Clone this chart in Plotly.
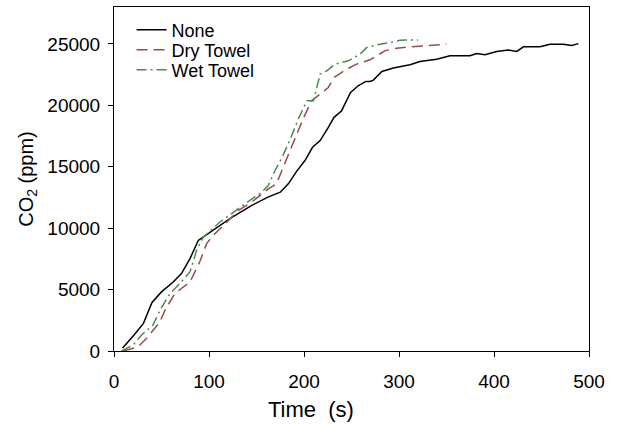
import plotly.graph_objects as go

none_t = [9, 20, 31, 40, 50, 62, 71, 80, 88.7, 100, 122, 145, 162, 175, 183.5, 192, 201, 209, 217, 225.6, 231.6, 239.6, 249, 257, 265, 269.5, 273, 282, 294, 311.6, 322, 339.6, 353.7, 374.7, 381.8, 390.5, 402.8, 415, 424, 431, 448.4, 459, 473, 481.8, 488.8]
none_v = [250, 1200, 2250, 3950, 4810, 5600, 6300, 7520, 9000, 9600, 10770, 11850, 12520, 12930, 13610, 14600, 15500, 16580, 17130, 18200, 19020, 19560, 21050, 21590, 21940, 21940, 22050, 22750, 23030, 23300, 23560, 23750, 24030, 24030, 24220, 24110, 24380, 24490, 24380, 24760, 24760, 24970, 24970, 24860, 25020]

dry_t = [10, 25.6, 34.4, 48.4, 53.7, 64, 80, 90.5, 97.5, 104.5, 117, 131, 145, 162.4, 171, 178, 185, 192, 199, 208, 217, 225.6, 231.6, 245, 255.4, 269.5, 285, 297.6, 311.6, 329, 350]
dry_v = [0, 350, 1030, 2380, 3330, 4680, 5630, 7300, 8740, 9420, 10360, 11440, 12120, 13200, 13610, 14960, 16200, 17670, 18890, 20370, 20920, 21450, 22260, 22950, 23350, 23700, 24430, 24650, 24760, 24840, 24970]

wet_t = [8, 20, 29, 41, 48.4, 59, 69.5, 80, 87, 94, 111.6, 125.6, 143, 155.5, 162.4, 169.5, 176.5, 185, 194, 203, 210, 217, 224, 232.6, 246.6, 259, 266, 276.5, 290.5, 301, 320]
wet_v = [0, 490, 1300, 2110, 3330, 4680, 5500, 6440, 8200, 9280, 10500, 11310, 12260, 12930, 13470, 14690, 15700, 17130, 18890, 20370, 20370, 22540, 22810, 23350, 23620, 24160, 24700, 24920, 25100, 25300, 25320]

series_names = ["None", "Dry Towel", "Wet Towel"]
x_ticks = [0, 100, 200, 300, 400, 500]
y_ticks = [0, 5000, 10000, 15000, 20000, 25000]

fig = go.Figure()
fig.add_trace(go.Scatter(x=none_t, y=none_v, mode="lines", name=series_names[0],
                         legend="legend",
                         line=dict(color="#000000", width=1.5)))
fig.add_trace(go.Scatter(x=dry_t, y=dry_v, mode="lines", name=series_names[1],
                         legend="legend2",
                         line=dict(color="#9b4b4b", width=1.5, dash="11px,6px")))
fig.add_trace(go.Scatter(x=wet_t, y=wet_v, mode="lines", name=series_names[2],
                         legend="legend3",
                         line=dict(color="#4b8b4b", width=1.5, dash="10px,4px,2px,4px")))

axis_common = dict(showline=True, linecolor="black", linewidth=1, mirror=True,
                   ticks="outside", ticklen=5, tickcolor="black", showgrid=False,
                   zeroline=False, tickformat="d",
                   tickfont=dict(family="Arial", size=19, color="black"))

leg_common = dict(x=0.037, xanchor="left", yanchor="middle",
                  bgcolor="rgba(0,0,0,0)", font=dict(family="Arial", size=18),
                  itemwidth=30)

fig.update_layout(
    width=618, height=425,
    margin=dict(l=114, r=29, t=7, b=74),
    paper_bgcolor="white", plot_bgcolor="white",
    font=dict(family="Arial", color="black"),
    showlegend=True,
    legend=dict(y=0.933, **leg_common),
    legend2=dict(y=0.875, **leg_common),
    legend3=dict(y=0.817, **leg_common),
    xaxis=dict(range=[0, 500], tickvals=x_ticks, ticklabelstandoff=8,
               **axis_common),
    yaxis=dict(range=[0, 28000], tickvals=y_ticks, ticklabelstandoff=4,
               title=dict(text="CO<sub>2</sub> (ppm)", font=dict(family="Arial", size=20), standoff=8),
               **axis_common),
    annotations=[dict(text="Time&nbsp;&nbsp;(s)", xref="paper", yref="paper",
                      x=0.415, y=-0.1715, xanchor="center", yanchor="middle",
                      showarrow=False, font=dict(family="Arial", size=22, color="black"))],
)

fig.write_html("out.html")
